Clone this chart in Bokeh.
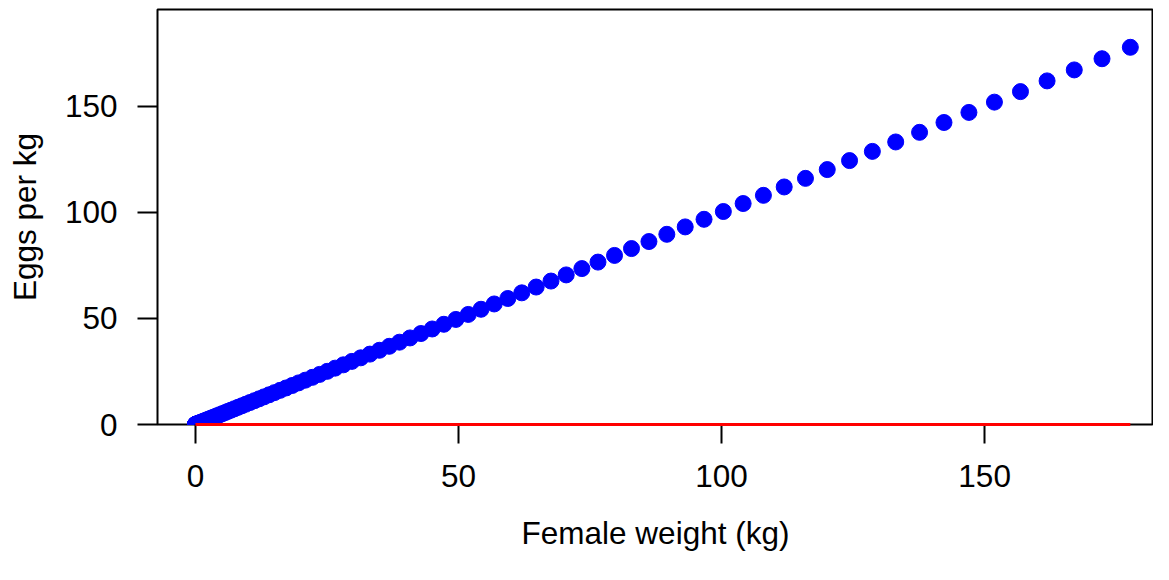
from bokeh.plotting import figure
from bokeh.models import FixedTicker, Range1d
from bokeh.embed import file_html
from bokeh.resources import INLINE

# Data
female_weight = [0.0, 0.0, 0.002, 0.005, 0.012, 0.024, 0.041, 0.065, 0.097, 0.138,
                 0.189, 0.251, 0.326, 0.415, 0.518, 0.637, 0.773, 0.928, 1.101, 1.295,
                 1.510, 1.748, 2.010, 2.297, 2.610, 2.950, 3.318, 3.716, 4.145, 4.605,
                 5.098, 5.625, 6.187, 6.785, 7.421, 8.095, 8.809, 9.563, 10.360, 11.199,
                 12.083, 13.012, 13.988, 15.011, 16.083, 17.204, 18.377, 19.602, 20.880, 22.212,
                 23.600, 25.045, 26.547, 28.108, 29.729, 31.412, 33.156, 34.964, 36.837, 38.776,
                 40.781, 42.854, 44.996, 47.209, 49.493, 51.849, 54.279, 56.784, 59.365, 62.022,
                 64.758, 67.574, 70.469, 73.446, 76.506, 79.650, 82.879, 86.193, 89.595, 93.086,
                 96.666, 100.336, 104.098, 107.953, 111.903, 115.947, 120.087, 124.325, 128.662, 133.098,
                 137.635, 142.274, 147.016, 151.863, 156.814, 161.872, 167.038, 172.313, 177.697]
eggs_per_kg = [0.0, 0.0, 0.002, 0.005, 0.012, 0.024, 0.041, 0.065, 0.097, 0.138,
               0.189, 0.251, 0.326, 0.415, 0.518, 0.637, 0.773, 0.928, 1.101, 1.295,
               1.510, 1.748, 2.010, 2.297, 2.610, 2.950, 3.318, 3.716, 4.145, 4.605,
               5.098, 5.625, 6.187, 6.785, 7.421, 8.095, 8.809, 9.563, 10.360, 11.199,
               12.083, 13.012, 13.988, 15.011, 16.083, 17.204, 18.377, 19.602, 20.880, 22.212,
               23.600, 25.045, 26.547, 28.108, 29.729, 31.412, 33.156, 34.964, 36.837, 38.776,
               40.781, 42.854, 44.996, 47.209, 49.493, 51.849, 54.279, 56.784, 59.365, 62.022,
               64.758, 67.574, 70.469, 73.446, 76.506, 79.650, 82.879, 86.193, 89.595, 93.086,
               96.666, 100.336, 104.098, 107.953, 111.903, 115.947, 120.087, 124.325, 128.662, 133.098,
               137.635, 142.274, 147.016, 151.863, 156.814, 161.872, 167.038, 172.313, 177.697]
red_x = [0.0, 177.697]
red_y = [0.0, 0.0]
tick_values = [0, 50, 100, 150]
x_title = "Female weight (kg)"
y_title = "Eggs per kg"

FONT = "Liberation Sans"
FS = "31.5px"

p = figure(width=1153, height=564, output_backend="svg", toolbar_location=None,
           x_range=Range1d(-7.22, 182.1), y_range=Range1d(0, 195.5),
           min_border_left=157, min_border_right=0, min_border_top=9, min_border_bottom=140)

p.grid.visible = False
p.background_fill_color = "white"
p.border_fill_color = "white"
p.outline_line_color = "black"
p.outline_line_width = 2

p.scatter(female_weight, eggs_per_kg, size=16, color="#0000FF", line_color="#0000FF")
p.line(red_x, red_y, line_color="#FF0000", line_width=3, level="overlay")

for ax in (p.xaxis[0], p.yaxis[0]):
    ax.ticker = FixedTicker(ticks=tick_values)
    ax.axis_line_color = None
    ax.major_tick_in = 0
    ax.major_tick_line_width = 2
    ax.major_tick_line_color = "black"
    ax.minor_tick_line_color = None
    ax.major_label_text_font = FONT
    ax.major_label_text_font_size = FS
    ax.major_label_text_color = "black"
    ax.axis_label_text_font = FONT
    ax.axis_label_text_font_size = FS
    ax.axis_label_text_font_style = "normal"
    ax.axis_label_text_color = "black"

p.xaxis.axis_label = x_title
p.yaxis.axis_label = y_title
p.xaxis.major_tick_out = 19
p.yaxis.major_tick_out = 20
p.xaxis.major_label_standoff = 21
p.xaxis.axis_label_standoff = 25
p.yaxis.major_label_standoff = 20
p.yaxis.axis_label_standoff = 19
p.yaxis.major_label_orientation = "horizontal"

open("out.html", "w").write(file_html(p, INLINE))
